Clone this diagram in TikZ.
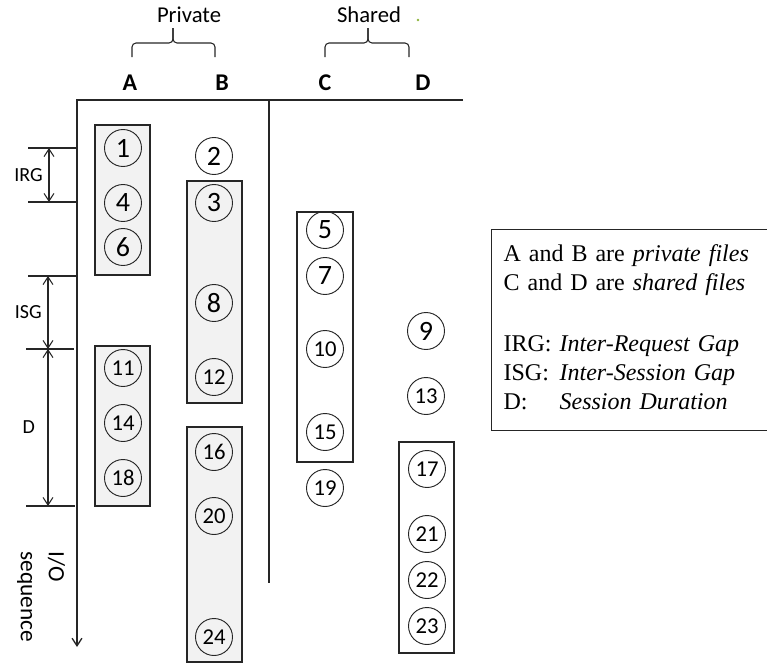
\documentclass[tikz,border=0pt]{standalone}
\usepackage{fontspec}
\setmainfont{Carlito}
\newfontfamily\legendfont{Liberation Serif}
\usepackage{xcolor}
\usepackage{tikz}
\usetikzlibrary{arrows.meta,positioning,shadows}
\definecolor{boxgray}{HTML}{F2F2F2}
\definecolor{linegray}{HTML}{262626}
\definecolor{dotgreen}{HTML}{8CB43C}
\tikzset{
    req/.style={circle, draw=linegray, line width=0.7pt, minimum size=27.75pt, inner sep=0pt, font=\fontsize{21}{21}\selectfont},
    reqsm/.style={req, font=\fontsize{17}{17}\selectfont},
    privbox/.style={draw=linegray, line width=0.9pt, fill=boxgray, drop shadow={shadow xshift=1pt, shadow yshift=-1pt, opacity=0.25}},
    sharedbox/.style={draw=linegray, line width=0.9pt, fill=white, drop shadow={shadow xshift=1pt, shadow yshift=-1pt, opacity=0.25}},
    seqaxis/.style={draw=linegray, line width=1pt},
    gapline/.style={draw=linegray, line width=0.8pt},
    dimarrow/.style={{Straight Barb[length=2mm, width=2.6mm]}-{Straight Barb[length=2mm, width=2.6mm]}, line width=0.8pt, draw=linegray},
    bracket/.style={draw=linegray, line width=0.8pt, rounded corners=3pt},
    grouplbl/.style={font=\fontsize{17}{17}\selectfont},
    filelbl/.style={font=\bfseries\fontsize{18}{18}\selectfont},
    gaplbl/.style={font=\fontsize{15}{15}\selectfont},
    seqlbl/.style={font=\fontsize{17.5}{21}\selectfont, align=left, rotate=-90},
    keybox/.style={draw=linegray, line width=0.9pt, align=left, inner sep=9pt, text width=200pt, minimum height=142.5pt, font=\legendfont\fontsize{18}{21.75}\selectfont},
}

\begin{document}
\begin{tikzpicture}[x=0.75pt, y=-0.75pt]
    \useasboundingbox (0,0) rectangle (767,664);

    % file groups
    \node[grouplbl] (priv) at (189,15) {Private};
    \node[grouplbl] (shrd) at (369,15) {Shared};
    \fill[dotgreen] (418,20) circle (1.3);
    \draw[bracket] (132,57) |- (173,43) -- (173,28);
    \draw[bracket] (215,57) |- (173,43) -- (173,28);
    \draw[bracket] (325,57) |- (368,43) -- (368,28);
    \draw[bracket] (409,57) |- (368,43) -- (368,28);

    \node[filelbl] (fA) at (130,83) {A};
    \node[filelbl] (fB) at (222,83) {B};
    \node[filelbl] (fC) at (325,83) {C};
    \node[filelbl] (fD) at (423,83) {D};

    % axes
    \coordinate (top) at (463,100);
    \coordinate (orig) at (77,100);
    \coordinate (tip) at (77,647);
    \draw[seqaxis, -{Straight Barb[length=2mm, width=2.6mm]}] (top) -- (orig) -- (tip);
    \draw[seqaxis] (269,100) -- (269,583);
    \node[seqlbl] (seq) at (41,597) {I/O\\sequence};

    % gaps
    \draw[gapline] (28,148) -- (77,148);
    \draw[gapline] (28,202) -- (77,202);
    \draw[gapline] (28,276) -- (77,276);
    \draw[gapline] (26,349) -- (74,349);
    \draw[gapline] (26,506) -- (75,506);
    \coordinate (irg1) at (49,148);
    \coordinate (irg2) at (49,202);
    \coordinate (isg1) at (48,276);
    \coordinate (isg2) at (48,349);
    \coordinate (dur2) at (48,506);
    \draw[dimarrow] (irg1) -- node[gaplbl, left=1pt] {IRG} (irg2);
    \draw[dimarrow] (isg1) -- node[gaplbl, left=1pt] {ISG} (isg2);
    \draw[dimarrow] (isg2) -- node[gaplbl, left=6pt] {D} (dur2);

    % sessions
    \draw[privbox] (95,125) rectangle (150,275);
    \draw[privbox] (187,181) rectangle (242,403);
    \draw[privbox] (95,346) rectangle (150,506);
    \draw[privbox] (187,427) rectangle (242,662);
    \draw[sharedbox] (297,212) rectangle (353,462);
    \draw[sharedbox] (399,442) rectangle (454,653);

    % requests
    \node[req] (r1) at (123,148) {1};
    \node[req] (r2) at (214,156) {2};
    \node[req] (r3) at (214,203) {3};
    \node[req] (r4) at (123,203) {4};
    \node[req] (r5) at (325,230) {5};
    \node[req] (r6) at (123,247) {6};
    \node[req] (r7) at (325,276) {7};
    \node[req] (r8) at (214,303) {8};
    \node[req] (r9) at (426,331) {9};
    \node[reqsm] (r10) at (325,349) {10};
    \node[reqsm] (r11) at (123,368) {11};
    \node[reqsm] (r12) at (214,377) {12};
    \node[reqsm] (r13) at (426,396) {13};
    \node[reqsm] (r14) at (123,423) {14};
    \node[reqsm] (r15) at (325,432) {15};
    \node[reqsm] (r16) at (214,452) {16};
    \node[reqsm] (r17) at (427,469) {17};
    \node[reqsm] (r18) at (123,478) {18};
    \node[reqsm] (r19) at (325,488) {19};
    \node[reqsm] (r20) at (214,516) {20};
    \node[reqsm] (r21) at (427,534) {21};
    \node[reqsm] (r22) at (427,580) {22};
    \node[reqsm] (r23) at (427,626) {23};
    \node[reqsm] (r24) at (214,637) {24};

    % legend
    \node[keybox, anchor=north west] (key) at (491,229) {%
        \begin{tabular}{@{}l@{ }l@{}}
        \multicolumn{2}{@{}l@{}}{A and B are \textit{private files}}\\
        \multicolumn{2}{@{}l@{}}{C and D are \textit{shared files}}\\[24pt]
        IRG: & \textit{Inter-Request Gap}\\
        ISG: & \textit{Inter-Session Gap}\\
        D: & \textit{Session Duration}
        \end{tabular}};
\end{tikzpicture}
\end{document}
